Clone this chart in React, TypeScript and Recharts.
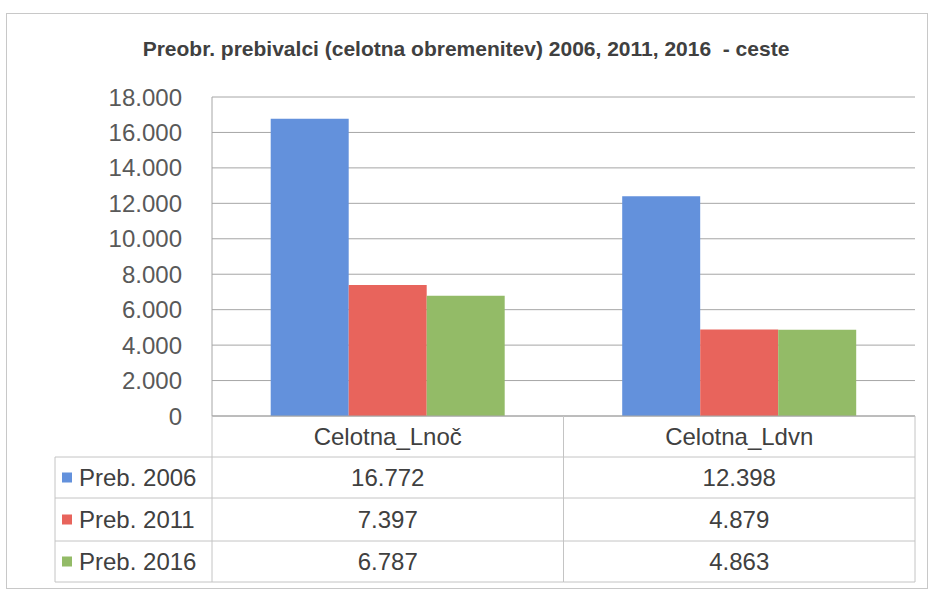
import { BarChart, Bar, XAxis, YAxis, CartesianGrid } from 'recharts';

const categories = ['Celotna_Lnoč', 'Celotna_Ldvn'];
const seriesNames = ['Preb. 2006', 'Preb. 2011', 'Preb. 2016'];
const preb2006 = [16772, 12398];
const preb2011 = [7397, 4879];
const preb2016 = [6787, 4863];
const yTicks = [0, 2000, 4000, 6000, 8000, 10000, 12000, 14000, 16000, 18000];

const COLORS = ['#6391dc', '#e8645c', '#93bb67'];
const FONT = '"Liberation Sans Narrow", "Liberation Sans", sans-serif';

const W = 932;
const H = 590;
const PLOT_LEFT = 212;
const PLOT_RIGHT = 915;
const PLOT_TOP = 97;
const PLOT_BOTTOM = 416;
const Y_AXIS_W = 110;
const BAND = (PLOT_RIGHT - PLOT_LEFT) / categories.length;
const ROW_LINES = [457, 498, 541, 582];
const TABLE_LEFT = 55;
const LINE = '#c4c4c4';

const seriesValues = [preb2006, preb2011, preb2016];
const data = categories.map((name, i) => ({
  name,
  p2006: preb2006[i],
  p2011: preb2011[i],
  p2016: preb2016[i],
}));

const fmt = (v: number) => v.toString().replace(/\B(?=(\d{3})+(?!\d))/g, '.');

function TableTick(props: any) {
  const { x, y, index, payload } = props;
  const left = x - BAND / 2;
  const right = x + BAND / 2;
  const bottom = ROW_LINES[ROW_LINES.length - 1];
  return (
    <g>
      <line x1={left} x2={left} y1={y} y2={bottom} stroke={LINE} />
      <line x1={right} x2={right} y1={y} y2={bottom} stroke={LINE} />
      {ROW_LINES.map((ry) => (
        <line key={ry} x1={left} x2={right} y1={ry} y2={ry} stroke={LINE} />
      ))}
      <text x={x} y={(y + ROW_LINES[0]) / 2} textAnchor="middle" dominantBaseline="central" fontSize={24} fill="#404040" fontFamily={FONT}>
        {payload.value}
      </text>
      {seriesValues.map((vals, r) => (
        <text key={r} x={x} y={(ROW_LINES[r] + ROW_LINES[r + 1]) / 2} textAnchor="middle" dominantBaseline="central" fontSize={24} fill="#404040" fontFamily={FONT}>
          {fmt(vals[index])}
        </text>
      ))}
      {index === 0 && (
        <g>
          <line x1={TABLE_LEFT} x2={TABLE_LEFT} y1={ROW_LINES[0]} y2={bottom} stroke={LINE} />
          {ROW_LINES.map((ry) => (
            <line key={ry} x1={TABLE_LEFT} x2={left} y1={ry} y2={ry} stroke={LINE} />
          ))}
          {seriesNames.map((s, r) => {
            const cy = (ROW_LINES[r] + ROW_LINES[r + 1]) / 2;
            return (
              <g key={s}>
                <rect x={62} y={cy - 5} width={10} height={10} fill={COLORS[r]} />
                <text x={79} y={cy} dominantBaseline="central" fontSize={24} fill="#404040" fontFamily={FONT}>
                  {s}
                </text>
              </g>
            );
          })}
        </g>
      )}
    </g>
  );
}

export default function App() {
  return (
    <div style={{ position: 'absolute', left: 0, top: 0, width: W, height: H, background: '#fff' }}>
      <div style={{ position: 'absolute', left: 6, top: 13, width: 920, height: 574, border: '1px solid #c8c8c8' }} />
      <div style={{ position: 'absolute', left: 0, top: 37, width: W, textAlign: 'center', fontFamily: FONT, fontWeight: 'bold', fontSize: 21, color: '#404040' }}>
        Preobr. prebivalci (celotna obremenitev) 2006, 2011, 2016&nbsp; - ceste
      </div>
      <div style={{ position: 'absolute', left: 0, top: 0 }}>
        <BarChart
          width={W}
          height={H}
          data={data}
          barGap={0}
          barCategoryGap="16.7%"
          margin={{ top: PLOT_TOP, right: W - PLOT_RIGHT, left: PLOT_LEFT - Y_AXIS_W, bottom: 4 }}
        >
          <CartesianGrid vertical={false} stroke="#a6a6a6" />
          <XAxis
            dataKey="name"
            height={H - PLOT_BOTTOM - 4}
            axisLine={{ stroke: '#a6a6a6' }}
            tickLine={false}
            tickSize={0}
            tickMargin={0}
            tick={<TableTick />}
            interval={0}
          />
          <YAxis
            width={Y_AXIS_W}
            domain={[0, 18000]}
            ticks={yTicks}
            tickFormatter={fmt}
            axisLine={{ stroke: '#a6a6a6' }}
            tickLine={false}
            tickMargin={24}
            tick={{ fontSize: 24, fill: '#595959', fontFamily: FONT }}
          />
          <Bar dataKey="p2006" fill={COLORS[0]} isAnimationActive={false} />
          <Bar dataKey="p2011" fill={COLORS[1]} isAnimationActive={false} />
          <Bar dataKey="p2016" fill={COLORS[2]} isAnimationActive={false} />
        </BarChart>
      </div>
    </div>
  );
}
